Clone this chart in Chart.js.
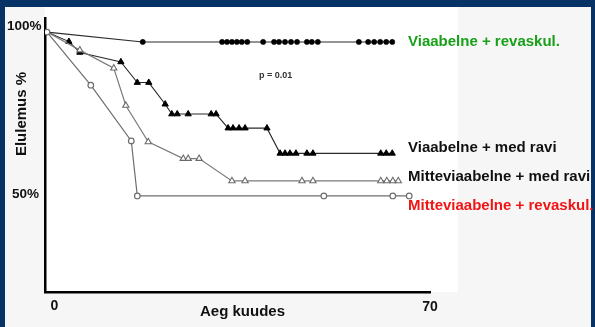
<!DOCTYPE html>
<html>
<head>
<meta charset="utf-8">
<script src="https://cdn.jsdelivr.net/npm/chart.js@4/dist/chart.umd.min.js"></script>
<style>
  html, body { margin:0; padding:0; }
  body { width:595px; height:327px; background:#063266; position:relative; overflow:hidden;
         font-family:"Liberation Sans", Arial, sans-serif; font-weight:bold; }
  #panel { position:absolute; left:5px; top:7px; width:586px; height:320px; background:#f6f6f6; }
  #plotbg { position:absolute; left:45px; top:7px; width:413px; height:285px; background:#ffffff; }
  #wrap { position:absolute; left:0; top:0; width:595px; height:327px; }
  .t { position:absolute; white-space:nowrap; line-height:1; transform:translateY(-50%); color:#111; }
  .c { transform:translate(-50%,-50%); }
</style>
</head>
<body>
<div id="panel"></div>
<div id="plotbg"></div>
<div id="wrap"><canvas id="c" width="595" height="327"></canvas></div>
<div id="labels"></div>
<script>
// ---- data (months, survival %) ----
const seriesNames = ["Viaabelne + revaskul.", "Viaabelne + med ravi", "Mitteviaabelne + med ravi", "Mitteviaabelne + revaskul."];
const months1 = [0, 17.5, 32.0, 32.9, 33.8, 34.7, 35.6, 36.6, 39.5, 41.5, 42.4, 43.5, 44.6, 45.7, 47.5, 48.4, 49.5, 57.0, 58.7, 59.8, 60.9, 62.0, 63.1];
const surv1   = [100, 97, 97, 97, 97, 97, 97, 97, 97, 97, 97, 97, 97, 97, 97, 97, 97, 97, 97, 97, 97, 97, 97];
const months2 = [0, 4.0, 6.0, 13.5, 16.5, 18.6, 21.6, 22.8, 23.8, 25.8, 30.0, 30.9, 33.1, 34.0, 35.1, 36.2, 40.2, 42.6, 43.5, 44.4, 45.5, 47.5, 48.6, 61.0, 62.0, 63.1];
const surv2   = [100, 97.1, 93.8, 90.9, 84.6, 84.6, 78.0, 75.0, 75.0, 75.0, 75.0, 75.0, 70.7, 70.7, 70.7, 70.7, 70.7, 63.0, 63.0, 63.0, 63.0, 63.0, 63.0, 63.0, 63.0, 63.0];
const months3 = [0, 6.0, 12.2, 14.4, 18.5, 24.9, 25.8, 27.8, 33.8, 36.2, 46.6, 48.6, 61.0, 62.1, 63.2, 64.2];
const surv3   = [100, 94.5, 89.0, 77.6, 66.5, 61.4, 61.4, 61.4, 54.6, 54.6, 54.6, 54.6, 54.6, 54.6, 54.6, 54.6];
const months4 = [0, 8.0, 15.4, 16.5, 50.6, 63.2, 66.2];
const surv4   = [100, 83.8, 66.8, 50.0, 50.0, 50.0, 50.0];
const xTickLabels = ["0", "70"];
const yTickLabels = ["50%", "100%"];
const xTitle = "Aeg kuudes";
const yTitle = "Elulemus %";
const pText = "p = 0.01";

function pts(xs, ys) { return xs.map((x, i) => ({ x: x, y: ys[i] })); }
function radii(n, r, first) { return Array.from({ length: n }, (_, i) => i === 0 ? first : r); }

const chart = new Chart(document.getElementById('c'), {
  type: 'line',
  data: {
    datasets: [
      { label: seriesNames[3], data: pts(months4, surv4), borderColor: '#6e6e6e', borderWidth: 1.2,
        pointStyle: 'circle', pointRadius: radii(months4.length, 2.8, 2.8), pointBackgroundColor: '#ffffff',
        pointBorderColor: '#6e6e6e', pointBorderWidth: 1.2, tension: 0 },
      { label: seriesNames[2], data: pts(months3, surv3), borderColor: '#7a7a7a', borderWidth: 1.2,
        pointStyle: 'triangle', pointRadius: radii(months3.length, 3.6, 0), pointBackgroundColor: '#ffffff',
        pointBorderColor: '#6a6a6a', pointBorderWidth: 1.1, tension: 0 },
      { label: seriesNames[1], data: pts(months2, surv2), borderColor: '#2a2a2a', borderWidth: 1.1,
        pointStyle: 'triangle', pointRadius: radii(months2.length, 3.6, 0), pointBackgroundColor: '#000000',
        pointBorderColor: '#000000', pointBorderWidth: 1, tension: 0 },
      { label: seriesNames[0], data: pts(months1, surv1), borderColor: '#2a2a2a', borderWidth: 1.1,
        pointStyle: 'circle', pointRadius: radii(months1.length, 2.6, 0), pointBackgroundColor: '#000000',
        pointBorderColor: '#000000', pointBorderWidth: 0.5, tension: 0 }
    ]
  },
  options: {
    responsive: false,
    animation: false,
    events: [],
    layout: { padding: { left: 45, right: 165, top: 18, bottom: 35 } },
    plugins: { legend: { display: false }, tooltip: { enabled: false } },
    scales: {
      x: { type: 'linear', min: -0.37, max: 70,
           ticks: { display: false }, grid: { display: false, drawTicks: false },
           border: { display: true, color: '#000', width: 2.5 } },
      y: { type: 'linear', min: 20.7, max: 104.3,
           ticks: { display: false }, grid: { display: false, drawTicks: false },
           border: { display: true, color: '#000', width: 2.5 } }
    }
  }
});

// ---- text labels (real HTML text) ----
const L = document.getElementById('labels');
function add(txt, x, y, size, color, center) {
  const d = document.createElement('div');
  d.className = 't' + (center ? ' c' : '');
  d.textContent = txt;
  d.style.left = x + 'px'; d.style.top = y + 'px';
  d.style.fontSize = size + 'px';
  if (color) d.style.color = color;
  L.appendChild(d);
  return d;
}
add(yTickLabels[1], 7, 25.5, 13.5);
add(yTickLabels[0], 12, 193.5, 13.5);
add(xTickLabels[0], 54.5, 304.5, 14, null, true);
add(xTickLabels[1], 430, 305.5, 14, null, true);
add(xTitle, 242.5, 310, 15, null, true);
const yt = add(yTitle, 20, 113.5, 15, null, true);
yt.style.transform = 'translate(-50%,-50%) rotate(-90deg)';
add(pText, 259, 75, 9, '#333');
add(seriesNames[0], 408, 39.5, 15, '#18a018');
add(seriesNames[1], 408, 146, 15);
add(seriesNames[2], 408, 175, 15);
add(seriesNames[3], 408, 203.5, 15, '#f01414');
</script>
</body>
</html>
